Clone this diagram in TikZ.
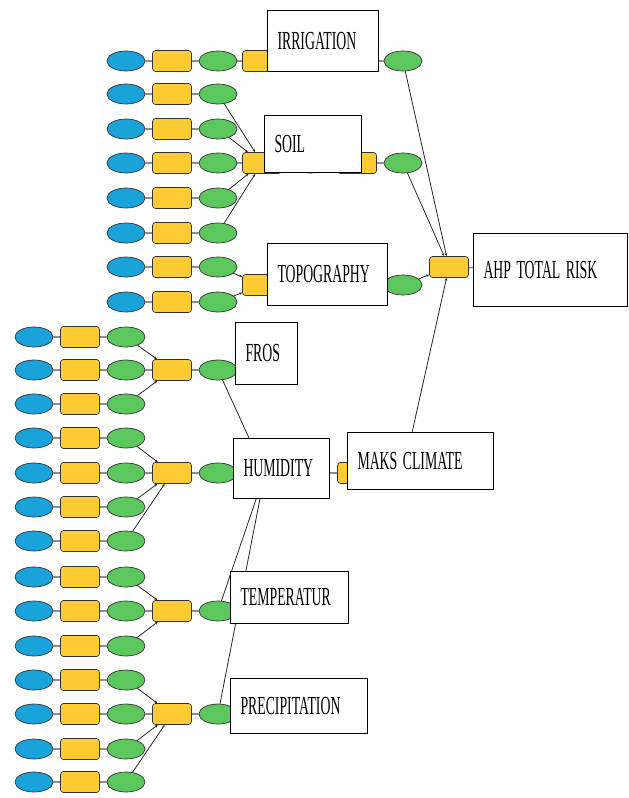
\documentclass[tikz,border=0pt]{standalone}
\usepackage{fontspec}
\setmainfont{Liberation Serif}
\usepackage{graphicx}
\usetikzlibrary{shapes.geometric,arrows.meta}

\definecolor{inblue}{HTML}{1AA3DA}
\definecolor{toolyellow}{HTML}{FFCB33}
\definecolor{outgreen}{HTML}{5CC75C}
\newcommand{\boxtext}[1]{\scalebox{0.53}[1]{\fontsize{26}{26}\selectfont\spaceskip=0.4em #1}}

\begin{document}
\begin{tikzpicture}[x=1pt,y=-1pt]
    \tikzstyle{data}=[draw=black!80,ellipse,minimum width=38pt,minimum height=20pt,inner sep=0pt,line width=0.7pt];
    \tikzstyle{input}=[data,fill=inblue];
    \tikzstyle{output}=[data,fill=outgreen];
    \tikzstyle{tool}=[draw=black!80,rectangle,rounded corners=3pt,minimum width=39pt,minimum height=21pt,inner sep=0pt,fill=toolyellow,line width=0.7pt];
    \tikzstyle{link}=[draw=black!45,line width=1.5pt];
    \tikzstyle{feed}=[draw=black!85,line width=0.8pt,-{Stealth[length=3pt,width=2.5pt]}];
    \tikzstyle{titlebox}=[draw=black,fill=white,line width=1pt,rectangle,inner xsep=10pt,inner ysep=0pt,align=left,anchor=north west];
    \useasboundingbox (0,0) rectangle (629,798);

    % upper inputs
    \foreach \y [count=\i] in {61,94,129,163,198,233,267,302} {
        \node[input] (in\i) at (126,\y) {};
        \node[tool] (cv\i) at (172,\y) {};
        \node[output] (out\i) at (218,\y) {};
        \draw[link] (in\i) -- (cv\i) (cv\i) -- (out\i);
    }
    % climate inputs
    \foreach \y [count=\i] in {337,370,404,438,473,507,541,577,611,646,680,714,749,782} {
        \node[input] (cin\i) at (34,\y) {};
        \node[tool] (ccv\i) at (80,\y) {};
        \node[output] (cout\i) at (126,\y) {};
        \draw[link] (cin\i) -- (ccv\i) (ccv\i) -- (cout\i);
    }

    % overlays
    \node[tool] (irr) at (262,61) {};
    \node[tool] (soil) at (262,163) {};
    \node[tool] (topo) at (262,285) {};
    \node[tool] (fros) at (172,370) {};
    \node[tool] (hum) at (172,473) {};
    \node[tool] (temp) at (172,611) {};
    \node[tool] (prec) at (172,714) {};
    \node[output] (frosout) at (218,370) {};
    \node[output] (humout) at (218,473) {};
    \node[output] (tempout) at (218,611) {};
    \node[output] (precout) at (218,714) {};
    \node[tool] (clim) at (265,473) {};

    \draw[link] (out1) -- (irr)
          (out4) -- (soil)
          (cout2) -- (fros)
          (cout5) -- (hum)
          (cout9) -- (temp)
          (cout12) -- (prec)
          (fros) -- (frosout)
          (hum) -- (humout)
          (temp) -- (tempout)
          (prec) -- (precout)
          (humout) -- (clim);
    \draw[feed] (out2) -- (soil);
    \draw[feed] (out3) -- (soil);
    \draw[feed] (out5) -- (soil);
    \draw[feed] (out6) -- (soil);
    \draw[feed] (out7) -- (topo);
    \draw[feed] (out8) -- (topo);
    \draw[feed] (cout1) -- (fros);
    \draw[feed] (cout3) -- (fros);
    \draw[feed] (cout4) -- (hum);
    \draw[feed] (cout6) -- (hum);
    \draw[feed] (cout7) -- (hum);
    \draw[feed] (cout8) -- (temp);
    \draw[feed] (cout10) -- (temp);
    \draw[feed] (cout11) -- (prec);
    \draw[feed] (cout13) -- (prec);
    \draw[feed] (cout14) -- (prec);
    \draw[feed] (frosout) -- (clim);
    \draw[feed] (tempout) -- (clim);
    \draw[feed] (precout) -- (clim);

    % reclassify and weight chains
    \foreach \n/\y in {irr/61,soil/163,topo/285,clim/473} {
        \node[output] (\n w) at (310,\y) {};
        \node[tool] (\n r) at (357,\y) {};
        \node[output] (\n out) at (403,\y) {};
        \draw[link] (\n) -- (\n w) (\n w) -- (\n r) (\n r) -- (\n out);
    }

    \node[tool] (ahp) at (449,267) {};
    \draw[feed] (irrout) -- (ahp);
    \draw[feed] (soilout) -- (ahp);
    \draw[feed] (topoout) -- (ahp);
    \draw[feed] (climout) -- (ahp);

    % titles
    \node[titlebox,text width=91pt,minimum height=61pt] (irrigation) at (267,10) {\boxtext{IRRIGATION}};
    \node[titlebox,text width=77pt,minimum height=57pt] (soilbox) at (264,115) {\boxtext{SOIL}};
    \node[titlebox,text width=100pt,minimum height=62pt] (topography) at (267,243) {\boxtext{TOPOGRAPHY}};
    \node[titlebox,text width=134pt,minimum height=73pt] (total) at (473,233) {\boxtext{AHP TOTAL RISK}};
    \node[titlebox,text width=126pt,minimum height=57pt] (maks) at (347,432) {\boxtext{MAKS CLIMATE}};
    \node[titlebox,text width=42pt,minimum height=62pt] (frosbox) at (235,322) {\boxtext{FROS}};
    \node[titlebox,text width=76pt,minimum height=60pt] (humidity) at (233,438) {\boxtext{HUMIDITY}};
    \node[titlebox,text width=98pt,minimum height=52pt] (temperatur) at (230,571) {\boxtext{TEMPERATUR}};
    \node[titlebox,text width=117pt,minimum height=55pt] (precipitation) at (230,678) {\boxtext{PRECIPITATION}};
    \draw[link] (ahp) -- (total);
\end{tikzpicture}
\end{document}
